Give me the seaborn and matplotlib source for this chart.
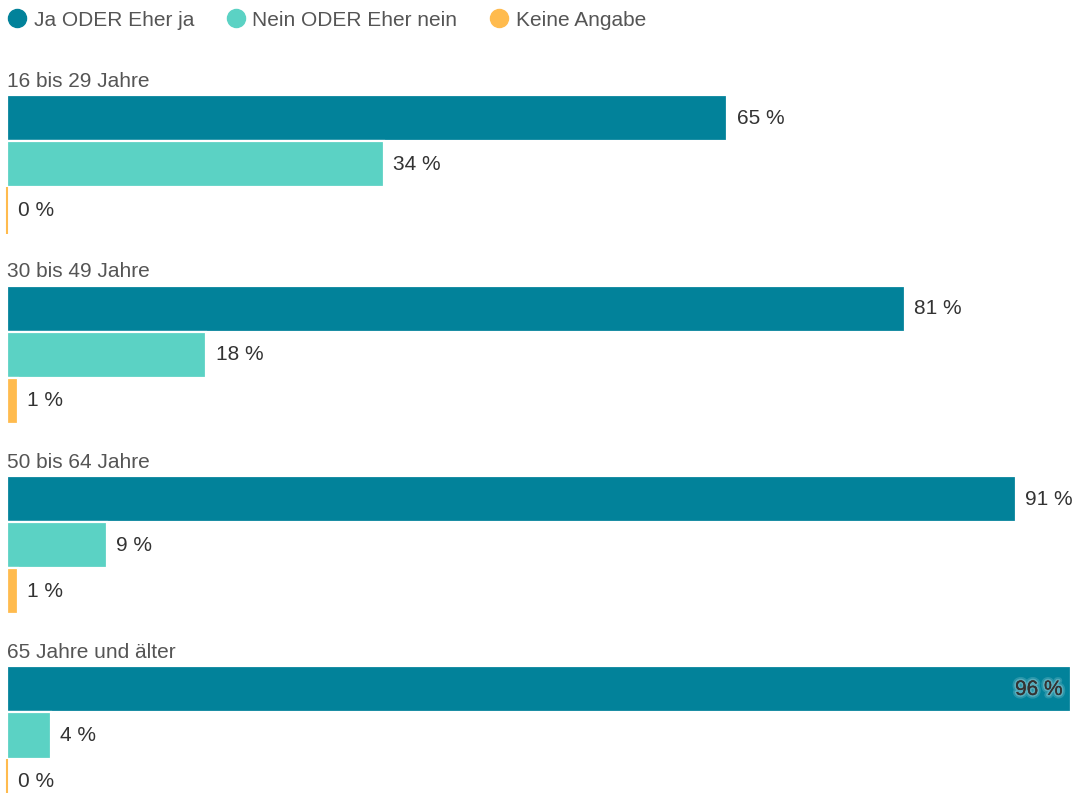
import matplotlib
matplotlib.use("Agg")
import matplotlib.pyplot as plt
import matplotlib.patheffects as pe
from matplotlib.lines import Line2D
import pandas as pd
import seaborn as sns

# Survey shares (in %) per age group
groups = ["16 bis 29 Jahre", "30 bis 49 Jahre", "50 bis 64 Jahre", "65 Jahre und älter"]
answers = ["Ja ODER Eher ja", "Nein ODER Eher nein", "Keine Angabe"]
ja = [65, 81, 91, 96]
nein = [34, 18, 9, 4]
keine = [0, 1, 1, 0]
colors = ["#02829A", "#5BD2C4", "#FFBB4E"]

rows = []
for answer, vals in zip(answers, [ja, nein, keine]):
    for g, v in zip(groups, vals):
        rows.append({"Gruppe": g, "Antwort": answer, "Anteil": v})
df = pd.DataFrame(rows)

sns.set_theme(style="white")
plt.rcParams["font.family"] = ["Liberation Sans", "DejaVu Sans"]

W, H = 1075, 793
fig = plt.figure(figsize=(W / 100, H / 100), dpi=100)
ax = fig.add_axes([7 / W, 0, 1064 / W, 1])

sns.barplot(data=df, x="Anteil", y="Gruppe", hue="Antwort", order=groups,
            hue_order=answers, palette=colors, saturation=1, orient="h",
            width=0.726, edgecolor="white", linewidth=1.6, legend=False, ax=ax)

ax.set_xlim(0, 96)
ax.set_ylim(3.302, -0.864)
ax.set_xlabel("")
ax.set_ylabel("")
ax.set_xticks([])
ax.set_yticks([])
for s in ax.spines.values():
    s.set_visible(False)

px_per_unit = H / (3.302 + 0.864)

# value labels next to (or inside) each bar
for cont, vals, col in zip(ax.containers, [ja, nein, keine], colors):
    for patch, v in zip(cont.patches, vals):
        if v == 0:
            patch.set_edgecolor(col)
            patch.set_linewidth(1.5)
            patch.set_clip_on(False)
        yc = patch.get_y() + patch.get_height() / 2
        if v > 92:
            t = ax.annotate(f"{v} %", xy=(v, yc), xytext=(-6, 0),
                            textcoords="offset points", ha="right", va="center",
                            fontsize=15, color="#333333")
            t.set_path_effects([
                pe.withStroke(linewidth=5, foreground="#bfe3ea", alpha=0.2),
                pe.withStroke(linewidth=2.5, foreground="#e6f4f6", alpha=0.25),
                pe.Normal(),
            ])
        else:
            off = 8 if v == 0 else 6.6
            ax.annotate(f"{v} %", xy=(v, yc), xytext=(off, 0),
                        textcoords="offset points", ha="left", va="center",
                        fontsize=15, color="#333333")

# group titles above each block of bars
for i, g in enumerate(groups):
    ax.text(0, i - 0.363 - 14 / px_per_unit, g, ha="left", va="center",
            fontsize=15, color="#555555")

handles = [Line2D([], [], marker="o", linestyle="", markersize=13,
                  markerfacecolor=c, markeredgecolor=c) for c in colors]
fig.legend(handles, answers, loc="center left",
           bbox_to_anchor=(6.6 / W, 1 - 20 / H), ncol=3, frameon=False,
           handlelength=1, handletextpad=0.3, columnspacing=1.5,
           borderpad=0, borderaxespad=0, fontsize=15, labelcolor="#555555")

fig.savefig("out.png", dpi=100, facecolor="white")
